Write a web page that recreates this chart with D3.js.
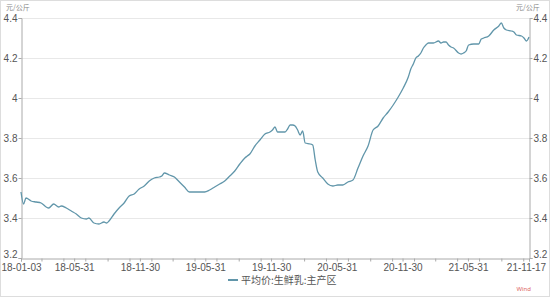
<!DOCTYPE html>
<meta charset="utf-8">
<style>
body { margin: 0; background: #fff; }
svg { display: block; font-family: "Noto Sans", "Noto Sans CJK SC", sans-serif; }
.grid line { stroke: #e8e8e8; }
.axis text { fill: #555; font-size: 10px; }
.axis path, .axis line { stroke: #aaa; }
</style>
<svg width="550" height="297"></svg>
<script src="https://d3js.org/d3.v7.min.js"></script>
<script>

var dates = ["2018-01-03","2018-01-10","2018-01-17","2018-01-31","2018-02-14","2018-02-28","2018-03-14","2018-03-21",
  "2018-04-04","2018-04-18","2018-04-25","2018-05-09","2018-05-23","2018-06-06","2018-06-20","2018-07-04","2018-07-11",
  "2018-07-25","2018-08-08","2018-08-22","2018-08-29","2018-09-05","2018-09-19","2018-10-03","2018-10-17","2018-10-31",
  "2018-11-14","2018-11-28","2018-12-12","2018-12-26","2019-01-09","2019-01-23","2019-01-30","2019-02-06","2019-02-20",
  "2019-03-06","2019-03-20","2019-04-03","2019-04-17","2019-05-01","2019-05-15","2019-05-29","2019-06-12","2019-06-26",
  "2019-07-10","2019-07-24","2019-08-07","2019-08-21","2019-09-04","2019-09-18","2019-09-25","2019-10-02","2019-10-16",
  "2019-10-30","2019-11-13","2019-11-27","2019-12-04","2019-12-11","2019-12-18","2020-01-01","2020-01-08","2020-01-15",
  "2020-01-22","2020-01-29","2020-02-05","2020-02-12","2020-02-19","2020-02-26","2020-03-04","2020-03-18","2020-03-25",
  "2020-04-01","2020-04-08","2020-04-22","2020-05-06","2020-05-20","2020-06-03","2020-06-17","2020-07-01","2020-07-15",
  "2020-07-29","2020-08-12","2020-08-26","2020-09-09","2020-09-23","2020-10-07","2020-10-21","2020-11-04","2020-11-18",
  "2020-12-02","2020-12-16","2020-12-23","2020-12-30","2021-01-06","2021-01-13","2021-01-20","2021-01-27","2021-02-03",
  "2021-02-10","2021-02-24","2021-03-10","2021-03-17","2021-03-24","2021-03-31","2021-04-07","2021-04-14","2021-04-21",
  "2021-05-05","2021-05-12","2021-05-19","2021-05-26","2021-06-02","2021-06-16","2021-06-30","2021-07-07","2021-07-14",
  "2021-07-28","2021-08-11","2021-08-25","2021-09-01","2021-09-08","2021-09-15","2021-09-29","2021-10-06","2021-10-13",
  "2021-10-27","2021-11-03","2021-11-10","2021-11-17"];

var prices = [3.53,3.47,3.50,3.485,3.48,3.475,3.455,3.45,
  3.47,3.455,3.46,3.45,3.435,3.42,3.40,3.395,3.40,
  3.375,3.37,3.38,3.375,3.385,3.42,3.45,3.475,3.51,
  3.52,3.545,3.56,3.585,3.60,3.605,3.61,3.625,3.615,
  3.605,3.58,3.555,3.53,3.53,3.53,3.53,3.54,3.555,
  3.57,3.585,3.61,3.635,3.67,3.70,3.71,3.72,3.76,
  3.79,3.82,3.83,3.84,3.855,3.83,3.83,3.83,3.845,
  3.865,3.865,3.86,3.84,3.815,3.835,3.775,3.77,3.765,
  3.69,3.63,3.60,3.57,3.56,3.565,3.565,3.58,3.59,
  3.65,3.71,3.76,3.84,3.86,3.90,3.93,3.965,4.005,
  4.05,4.105,4.145,4.17,4.20,4.21,4.225,4.25,4.265,
  4.275,4.275,4.285,4.275,4.28,4.28,4.265,4.255,4.25,
  4.225,4.22,4.225,4.235,4.265,4.27,4.27,4.295,4.30,
  4.31,4.34,4.36,4.375,4.35,4.34,4.335,4.33,4.315,
  4.31,4.30,4.285,4.305];

var xTickLabels = ["18-01-03","18-05-31","18-11-30","19-05-31","19-11-30","20-05-31","20-11-30","21-05-31","21-11-17"];
var yTicks = [3.2, 3.4, 3.6, 3.8, 4, 4.2, 4.4];
var seriesName = "平均价:生鲜乳:主产区";
var unit = "元/公斤";

var parse = d3.timeParse("%Y-%m-%d");
var parseShort = d3.timeParse("%y-%m-%d");
var data = dates.map(function(d, i) { return {date: parse(d), value: prices[i]}; });

var svg = d3.select("svg");
var mLeft = 21, mRight = 529, mTop = 18, mBottom = 258;

var x = d3.scaleTime()
    .domain([parse(dates[0]), parse(dates[dates.length - 1])])
    .range([mLeft, mRight]);
var y = d3.scaleLinear().domain([3.2, 4.4]).range([mBottom, mTop]);

svg.append("rect").attr("x", 0.5).attr("y", 0.5).attr("width", 549).attr("height", 296)
    .attr("fill", "none").attr("stroke", "#ddd");

svg.append("g").attr("class", "grid")
  .selectAll("line").data(yTicks.slice(1)).join("line")
    .attr("x1", mLeft).attr("x2", mRight)
    .attr("y1", function(d) { return Math.round(y(d)) + 0.5; })
    .attr("y2", function(d) { return Math.round(y(d)) + 0.5; });

var fmt = function(d) { return String(+d.toFixed(1)); };

function liftBottom(g) {
  g.selectAll(".tick text").filter(function(d) { return d === 3.2; }).attr("dy", "-0.05em");
}

svg.append("g").attr("class", "axis")
    .attr("transform", "translate(" + (mLeft + 0.5) + ",0)")
    .call(d3.axisLeft(y).tickValues(yTicks).tickFormat(fmt).tickSize(3).tickPadding(1))
    .call(liftBottom);

svg.append("g").attr("class", "axis")
    .attr("transform", "translate(" + (mRight + 0.5) + ",0)")
    .call(d3.axisRight(y).tickValues(yTicks).tickFormat(fmt).tickSize(3).tickPadding(1))
    .call(liftBottom);

var minor = d3.timeMonth.every(2).range(x.domain()[0], x.domain()[1]);
svg.append("g").attr("class", "axis")
    .attr("transform", "translate(0," + (mBottom + 0.5) + ")")
    .call(d3.axisBottom(x).tickValues(minor).tickFormat("").tickSize(3))
    .call(function(g) { g.select(".domain").remove(); });

svg.append("g").attr("class", "axis")
    .attr("transform", "translate(0," + (mBottom + 0.5) + ")")
    .call(d3.axisBottom(x).tickValues(xTickLabels.map(parseShort))
      .tickFormat(d3.timeFormat("%y-%m-%d")).tickSize(3).tickPadding(2))
    .call(function(g) {
      g.selectAll(".tick text").attr("font-size", 9.5);
      g.selectAll(".tick text").filter(function(d, i) { return i === xTickLabels.length - 1; })
        .attr("dx", -3);
    });

svg.selectAll(".axis .domain").attr("stroke", "#aaa");

svg.append("text").attr("x", 6).attr("y", 10).attr("font-size", 7).attr("fill", "#888")
    .attr("font-family", "Noto Sans CJK SC").text(unit);
svg.append("text").attr("x", 516).attr("y", 10).attr("font-size", 7).attr("fill", "#888")
    .attr("font-family", "Noto Sans CJK SC").text(unit);

var line = d3.line()
    .x(function(d) { return x(d.date); })
    .y(function(d) { return y(d.value); })
    .curve(d3.curveMonotoneX);

svg.append("path").datum(data)
    .attr("fill", "none")
    .attr("stroke", "#6196aa")
    .attr("stroke-width", 1.3)
    .attr("stroke-linejoin", "round")
    .attr("d", line);

var legend = svg.append("g").attr("transform", "translate(228,280)");
legend.append("line").attr("x1", 0).attr("x2", 10).attr("y1", 0).attr("y2", 0)
    .attr("stroke", "#6196aa").attr("stroke-width", 2);
legend.append("text").attr("x", 13).attr("y", 4).attr("font-size", 10).attr("fill", "#555")
    .attr("font-family", "Noto Sans CJK SC").text(seriesName);

svg.append("text").attr("x", 531).attr("y", 291).attr("text-anchor", "end")
    .attr("font-size", 6).attr("fill", "#d66").text("Wind");

</script>
